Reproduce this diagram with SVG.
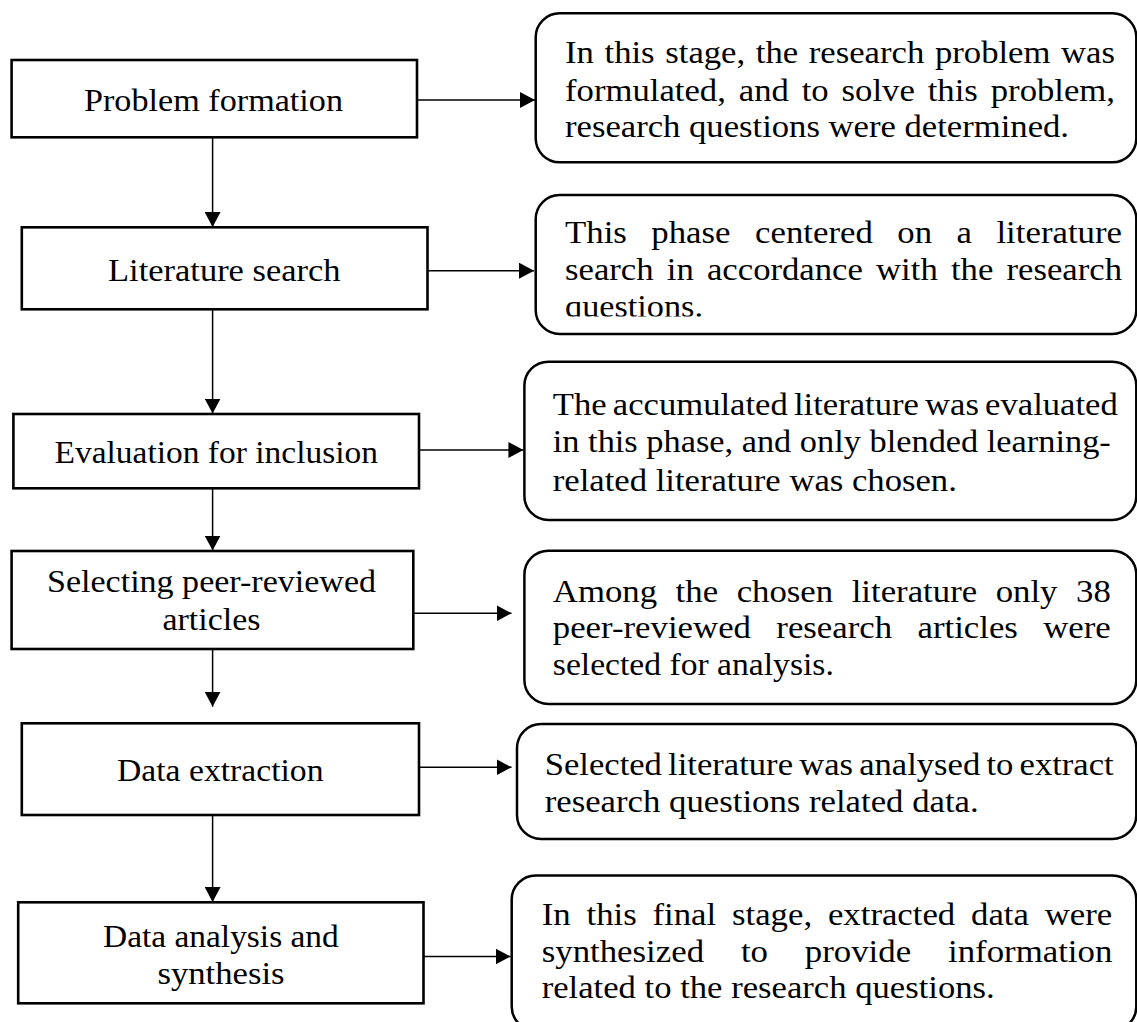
<svg xmlns="http://www.w3.org/2000/svg" width="1137" height="1022" viewBox="0 0 1137 1022">
<style>
.box{fill:#fff;stroke:#000;stroke-width:2.6}
.rbox{fill:#fff;stroke:#000;stroke-width:2.5}
.t{font-family:"Liberation Serif","Times New Roman",serif;font-size:32px;fill:#000}
.c{fill:none;stroke:#000;stroke-width:1.5}
</style>
<defs>
<marker id="ah" viewBox="0 0 15 16" refX="15" refY="8" markerWidth="15" markerHeight="16" markerUnits="userSpaceOnUse" orient="auto">
<path d="M0,0 L15,8 L0,16 z" fill="#000"/>
</marker>
<clipPath id="clip2"><rect x="530" y="190" width="607" height="126.5"/></clipPath>
</defs>
<rect width="1137" height="1022" fill="#fff"/>

<g id="connectors">
<line class="c" x1="212.6" y1="137.3" x2="212.6" y2="227" marker-end="url(#ah)"/>
<line class="c" x1="212.6" y1="309.3" x2="212.6" y2="413.5" marker-end="url(#ah)"/>
<line class="c" x1="212.6" y1="488.3" x2="212.6" y2="550.5" marker-end="url(#ah)"/>
<line class="c" x1="212.6" y1="649" x2="212.6" y2="706.7" marker-end="url(#ah)"/>
<line class="c" x1="212.6" y1="815" x2="212.6" y2="902" marker-end="url(#ah)"/>
<line class="c" x1="417" y1="100" x2="535" y2="100" marker-end="url(#ah)"/>
<line class="c" x1="427.5" y1="270.7" x2="534" y2="270.7" marker-end="url(#ah)"/>
<line class="c" x1="419" y1="450" x2="523.4" y2="450" marker-end="url(#ah)"/>
<line class="c" x1="413.3" y1="613.3" x2="511.5" y2="613.3" marker-end="url(#ah)"/>
<line class="c" x1="417.3" y1="767.3" x2="511.5" y2="767.3" marker-end="url(#ah)"/>
<line class="c" x1="423.5" y1="956.5" x2="510.5" y2="956.5" marker-end="url(#ah)"/>
</g>

<g id="problem-formation">
<rect class="box" x="11.6" y="60" width="405.4" height="77.3"/>
<text class="t" x="84" y="110.7" textLength="259" lengthAdjust="spacingAndGlyphs">Problem formation</text>
</g>
<g id="literature-search">
<rect class="box" x="21.8" y="227.3" width="405.7" height="82"/>
<text class="t" x="108" y="281" textLength="232.6" lengthAdjust="spacingAndGlyphs">Literature search</text>
</g>
<g id="evaluation">
<rect class="box" x="13.4" y="414" width="405.6" height="74.3"/>
<text class="t" x="54.5" y="463.3" textLength="323.5" lengthAdjust="spacingAndGlyphs">Evaluation for inclusion</text>
</g>
<g id="selecting">
<rect class="box" x="11.6" y="551" width="401.7" height="98"/>
<text class="t" x="47" y="592.3" textLength="329" lengthAdjust="spacingAndGlyphs">Selecting peer-reviewed</text>
<text class="t" x="162.5" y="630" textLength="98" lengthAdjust="spacingAndGlyphs">articles</text>
</g>
<g id="data-extraction">
<rect class="box" x="21.8" y="723.3" width="397.2" height="91.7"/>
<text class="t" x="117" y="781" textLength="206.5" lengthAdjust="spacingAndGlyphs">Data extraction</text>
</g>
<g id="data-analysis">
<rect class="box" x="18.2" y="902.3" width="405.3" height="101"/>
<text class="t" x="103" y="946.7" textLength="235.8" lengthAdjust="spacingAndGlyphs">Data analysis and</text>
<text class="t" x="157.4" y="984" textLength="127.2" lengthAdjust="spacingAndGlyphs">synthesis</text>
</g>

<g id="desc-problem">
<rect class="rbox" x="535.7" y="13.3" width="600.6" height="149" rx="24" ry="24"/>
<text class="t" x="565" y="62.7" word-spacing="1.85" textLength="550" lengthAdjust="spacingAndGlyphs">In this stage, the research problem was</text>
<text class="t" x="565" y="100.7" word-spacing="3.9" textLength="550" lengthAdjust="spacingAndGlyphs">formulated, and to solve this problem,</text>
<text class="t" x="565" y="137.3" textLength="504" lengthAdjust="spacingAndGlyphs">research questions were determined.</text>
</g>
<g id="desc-literature">
<rect class="rbox" x="535.7" y="195" width="600.6" height="139" rx="24" ry="24"/>
<text class="t" x="565" y="243" word-spacing="14.5" textLength="557" lengthAdjust="spacingAndGlyphs">This phase centered on a literature</text>
<text class="t" x="565" y="280" word-spacing="4.2" textLength="557" lengthAdjust="spacingAndGlyphs">search in accordance with the research</text>
<text class="t" x="565" y="317" textLength="138" lengthAdjust="spacingAndGlyphs" clip-path="url(#clip2)">questions.</text>
</g>
<g id="desc-evaluation">
<rect class="rbox" x="524.4" y="361.7" width="611.9" height="158.3" rx="24" ry="24"/>
<text class="t" x="552.8" y="415" word-spacing="-2.3" textLength="565" lengthAdjust="spacingAndGlyphs">The accumulated literature was evaluated</text>
<text class="t" x="552.8" y="452.3" textLength="558" lengthAdjust="spacingAndGlyphs">in this phase, and only blended learning-</text>
<text class="t" x="552.8" y="490.7" textLength="404" lengthAdjust="spacingAndGlyphs">related literature was chosen.</text>
</g>
<g id="desc-selecting">
<rect class="rbox" x="524.4" y="550.7" width="611.9" height="153.3" rx="24" ry="24"/>
<text class="t" x="552.8" y="601.7" word-spacing="9.1" textLength="558" lengthAdjust="spacingAndGlyphs">Among the chosen literature only 38</text>
<text class="t" x="552.8" y="638.3" word-spacing="15.3" textLength="558" lengthAdjust="spacingAndGlyphs">peer-reviewed research articles were</text>
<text class="t" x="552.8" y="675" textLength="281" lengthAdjust="spacingAndGlyphs">selected for analysis.</text>
</g>
<g id="desc-extraction">
<rect class="rbox" x="517" y="724" width="619.3" height="115" rx="24" ry="24"/>
<text class="t" x="544.7" y="775" word-spacing="-2.3" textLength="569" lengthAdjust="spacingAndGlyphs">Selected literature was analysed to extract</text>
<text class="t" x="544.7" y="811.7" textLength="434" lengthAdjust="spacingAndGlyphs">research questions related data.</text>
</g>
<g id="desc-analysis">
<rect class="rbox" x="511.7" y="875.5" width="624.6" height="155" rx="24" ry="24"/>
<text class="t" x="541.7" y="925" word-spacing="6.6" textLength="570.6" lengthAdjust="spacingAndGlyphs">In this final stage, extracted data were</text>
<text class="t" x="541.7" y="961.7" word-spacing="25.9" textLength="570.6" lengthAdjust="spacingAndGlyphs">synthesized to provide information</text>
<text class="t" x="541.7" y="998" textLength="453" lengthAdjust="spacingAndGlyphs">related to the research questions.</text>
</g>
</svg>
